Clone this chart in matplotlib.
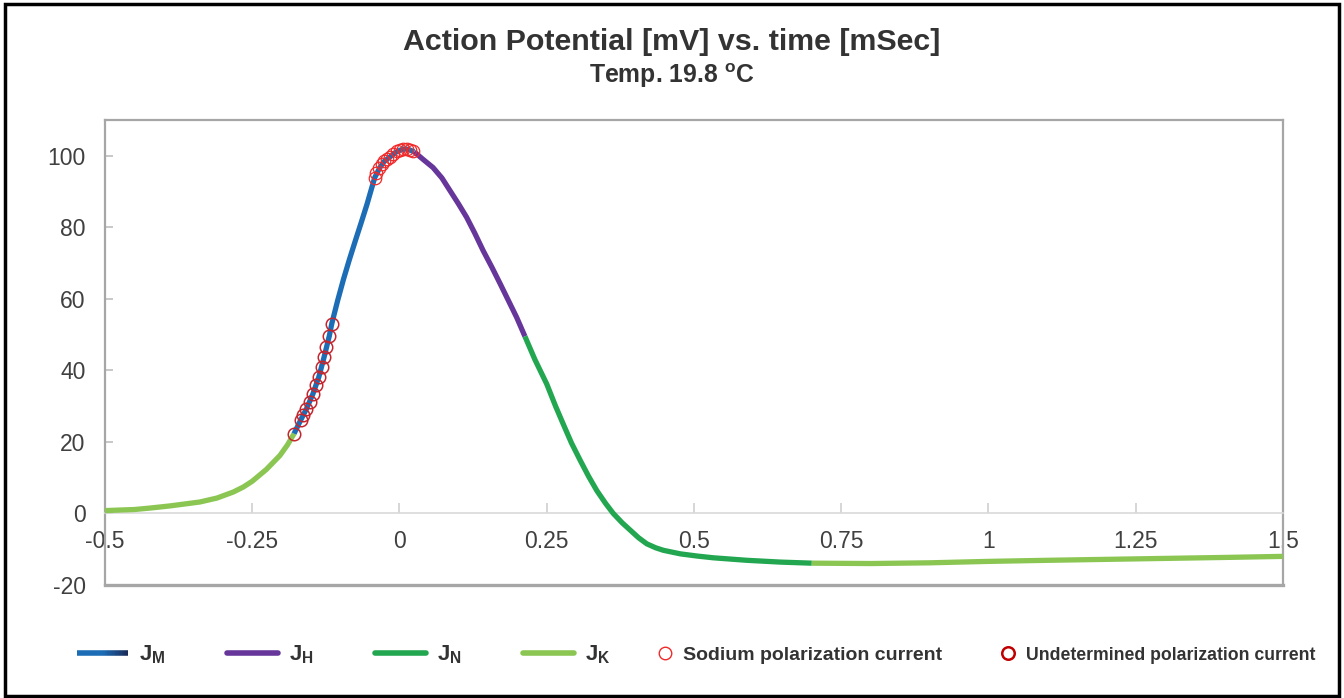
import matplotlib
matplotlib.use("Agg")
import matplotlib.pyplot as plt
from matplotlib.lines import Line2D
from matplotlib.patches import Rectangle
from matplotlib.legend_handler import HandlerBase
from matplotlib.collections import LineCollection
from matplotlib.colors import LinearSegmentedColormap
import numpy as np

plt.rcParams['font.family'] = ['Liberation Sans', 'DejaVu Sans']
plt.rcParams['mathtext.fontset'] = 'custom'
plt.rcParams['mathtext.rm'] = 'Liberation Sans'
plt.rcParams['mathtext.bf'] = 'Liberation Sans:bold'
plt.rcParams['mathtext.it'] = 'Liberation Sans:italic'
plt.rcParams['axes.unicode_minus'] = False

# action potential
time_ms = [-0.5, -0.45, -0.424, -0.39, -0.339, -0.31, -0.282, -0.265, -0.25, -0.226,
           -0.203, -0.19, -0.179, -0.168, -0.158, -0.147, -0.137, -0.128, -0.119, -0.115,
           -0.105, -0.095, -0.085, -0.075, -0.065, -0.055, -0.048, -0.042, -0.034, -0.026,
           -0.016, -0.005, 0.006, 0.015, 0.025, 0.04, 0.057, 0.072, 0.086, 0.1,
           0.114, 0.128, 0.142, 0.157, 0.171, 0.185, 0.199, 0.213, 0.23, 0.25,
           0.265, 0.278, 0.292, 0.307, 0.321, 0.335, 0.35, 0.363, 0.378, 0.392,
           0.406, 0.42, 0.435, 0.448, 0.477, 0.505, 0.533, 0.59, 0.647, 0.70,
           0.80, 0.9, 1.0, 1.1, 1.25, 1.4, 1.5]
potential_mv = [0.8, 1.1, 1.5, 2.1, 3.2, 4.3, 6.0, 7.4, 9.0, 12.3,
                16.2, 19.2, 22.3, 26.0, 29.2, 33.4, 38.1, 43.7, 49.7, 53.0,
                59.5, 65.5, 71.0, 76.2, 81.3, 86.5, 90.5, 93.9, 96.5, 98.4,
                99.7, 101.1, 101.9, 101.8, 101.1, 99.0, 96.7, 93.8, 90.2, 86.6,
                82.8, 78.3, 73.5, 68.8, 64.2, 59.5, 54.8, 49.5, 43.0, 36.2,
                30.0, 25.0, 19.7, 14.8, 10.4, 6.4, 2.8, 0.0, -2.6, -4.7,
                -6.8, -8.5, -9.6, -10.3, -11.3, -11.9, -12.4, -13.1, -13.6, -13.9,
                -14.0, -13.8, -13.4, -13.1, -12.7, -12.3, -12.0]

# where one current takes over from the next
seg_breaks = [-0.179, 0.025, 0.213, 0.70]
seg_names = ['K', 'M', 'H', 'N', 'K']

colors = {'M': '#1C6DB6', 'H': '#66369A', 'N': '#22A650', 'K': '#8BC653'}

# circle markers
undet_t = [-0.179, -0.168, -0.164, -0.158, -0.152, -0.147, -0.142, -0.137, -0.132,
           -0.128, -0.124, -0.119, -0.115]
undet_v = [22.3, 26.0, 27.4, 29.2, 31.1, 33.4, 35.8, 38.1, 40.9, 43.7, 46.5, 49.7, 53.0]
sodium_t = [-0.042, -0.039, -0.034, -0.030, -0.026, -0.022, -0.016, -0.011, -0.005,
            0.001, 0.006, 0.012, 0.018, 0.023]
sodium_v = [93.9, 95.3, 96.7, 97.7, 98.4, 99.1, 99.7, 100.5, 101.2, 101.6, 101.9,
            101.9, 101.6, 101.2]

x_ticks = [-0.5, -0.25, 0, 0.25, 0.5, 0.75, 1, 1.25, 1.5]
x_labels = ['-0.5', '-0.25', '0', '0.25', '0.5', '0.75', '1', '1.25', '1.5']
y_ticks = [-20, 0, 20, 40, 60, 80, 100]


class GradientLine(HandlerBase):
    # J_M legend key fades from blue to navy
    def create_artists(self, legend, orig_handle, xdescent, ydescent, width, height,
                       fontsize, trans):
        xs = np.linspace(-xdescent, width - xdescent, 40)
        y = height / 2 - ydescent
        segs = [[(xs[i], y), (xs[i + 1], y)] for i in range(len(xs) - 1)]
        cmap = LinearSegmentedColormap.from_list('jm', ['#1C6DB6', '#1C6DB6', '#1A2C5A'])
        lc = LineCollection(segs, colors=cmap(np.linspace(0, 1, len(segs))),
                            linewidths=4, transform=trans)
        lc.set_capstyle('butt')
        return [lc]


fig = plt.figure(figsize=(13.44, 6.98), dpi=100)
ax = fig.add_axes([0.0781, 0.1619, 0.8765, 0.6662])

t = np.array(time_ms)
v = np.array(potential_mv)
edges = [-0.5] + seg_breaks + [1.5]
for i, name in enumerate(seg_names):
    m = (t >= edges[i]) & (t <= edges[i + 1])
    ax.plot(t[m], v[m], color=colors[name], lw=3.8, solid_capstyle='butt',
            solid_joinstyle='round', zorder=3)

ax.plot(undet_t, undet_v, 'o', ms=9, mfc='none', mec='#C4262E', mew=1.1, zorder=4)
ax.plot(sodium_t, sodium_v, 'o', ms=9, mfc='none', mec='#F02A2A', mew=0.9, zorder=4)

ax.set_xlim(-0.5, 1.5)
ax.set_ylim(-20, 110)
ax.set_xticks(x_ticks)
ax.set_xticklabels(x_labels)
ax.set_yticks(y_ticks)

frame_c = '#A6A6A6'
for s in ['left', 'right', 'top']:
    ax.spines[s].set_color(frame_c)
    ax.spines[s].set_linewidth(1.6)
ax.spines['bottom'].set_position(('data', 0))
ax.spines['bottom'].set_color('#D9D9D9')
ax.spines['bottom'].set_linewidth(1.2)
ax.axhline(-20, color=frame_c, lw=2.4, clip_on=False, zorder=5)

ax.tick_params(axis='x', direction='in', length=7, color='#D0D0D0', width=1.2,
               labelsize=16.5, labelcolor='#404040', pad=12)
ax.tick_params(axis='y', direction='in', length=6, color='#BFBFBF', width=1.2,
               labelsize=16.5, labelcolor='#404040', pad=14)

fig.text(0.5, 0.94, 'Action Potential [mV] vs. time [mSec]', ha='center', va='center',
         fontsize=21.9, fontweight='bold', color='#333333')
fig.text(0.5, 0.891, r'Temp. 19.8 $\mathbf{^o}$C', ha='center', va='center',
         fontsize=17.8, fontweight='bold', color='#333333')

# legend: current lines
line_handles = [Line2D([], [], color=colors[k], lw=4, solid_capstyle='round')
                for k in ['M', 'H', 'N', 'K']]
line_labels = [r'$\mathbf{J_M}$', r'$\mathbf{J_H}$', r'$\mathbf{J_N}$', r'$\mathbf{J_K}$']
leg1 = fig.legend(line_handles, line_labels, loc='center left',
                  bbox_to_anchor=(77 / 1344, 0.062), ncol=4, frameon=False,
                  borderpad=0, borderaxespad=0, handlelength=2.3, handletextpad=0.5,
                  columnspacing=2.75, fontsize=16,
                  handler_map={line_handles[0]: GradientLine()})
for txt in leg1.get_texts():
    txt.set_color('#333333')

# legend: circle markers
mark_handles = [Line2D([], [], ls='none', marker='o', ms=9, mfc='none', mec='#F02A2A', mew=1.0),
                Line2D([], [], ls='none', marker='o', ms=9, mfc='none', mec='#C00000', mew=1.8)]
mark_labels = ['Sodium polarization current', 'Undetermined polarization current']
leg2 = fig.legend(mark_handles, mark_labels, loc='center left',
                  bbox_to_anchor=(659 / 1344, 0.062), ncol=2, frameon=False,
                  borderpad=0, borderaxespad=0, handlelength=0.62, handletextpad=0.6,
                  columnspacing=3.1, fontsize=14)
for txt in leg2.get_texts():
    txt.set_color('#333333')
    txt.set_fontweight('bold')
leg2.get_texts()[1].set_fontsize(12.7)

fig.patches.append(Rectangle((0.004, 0.003), 0.992, 0.991, transform=fig.transFigure,
                             fill=False, ec='black', lw=2.5))

fig.savefig('out.png', dpi=100)
